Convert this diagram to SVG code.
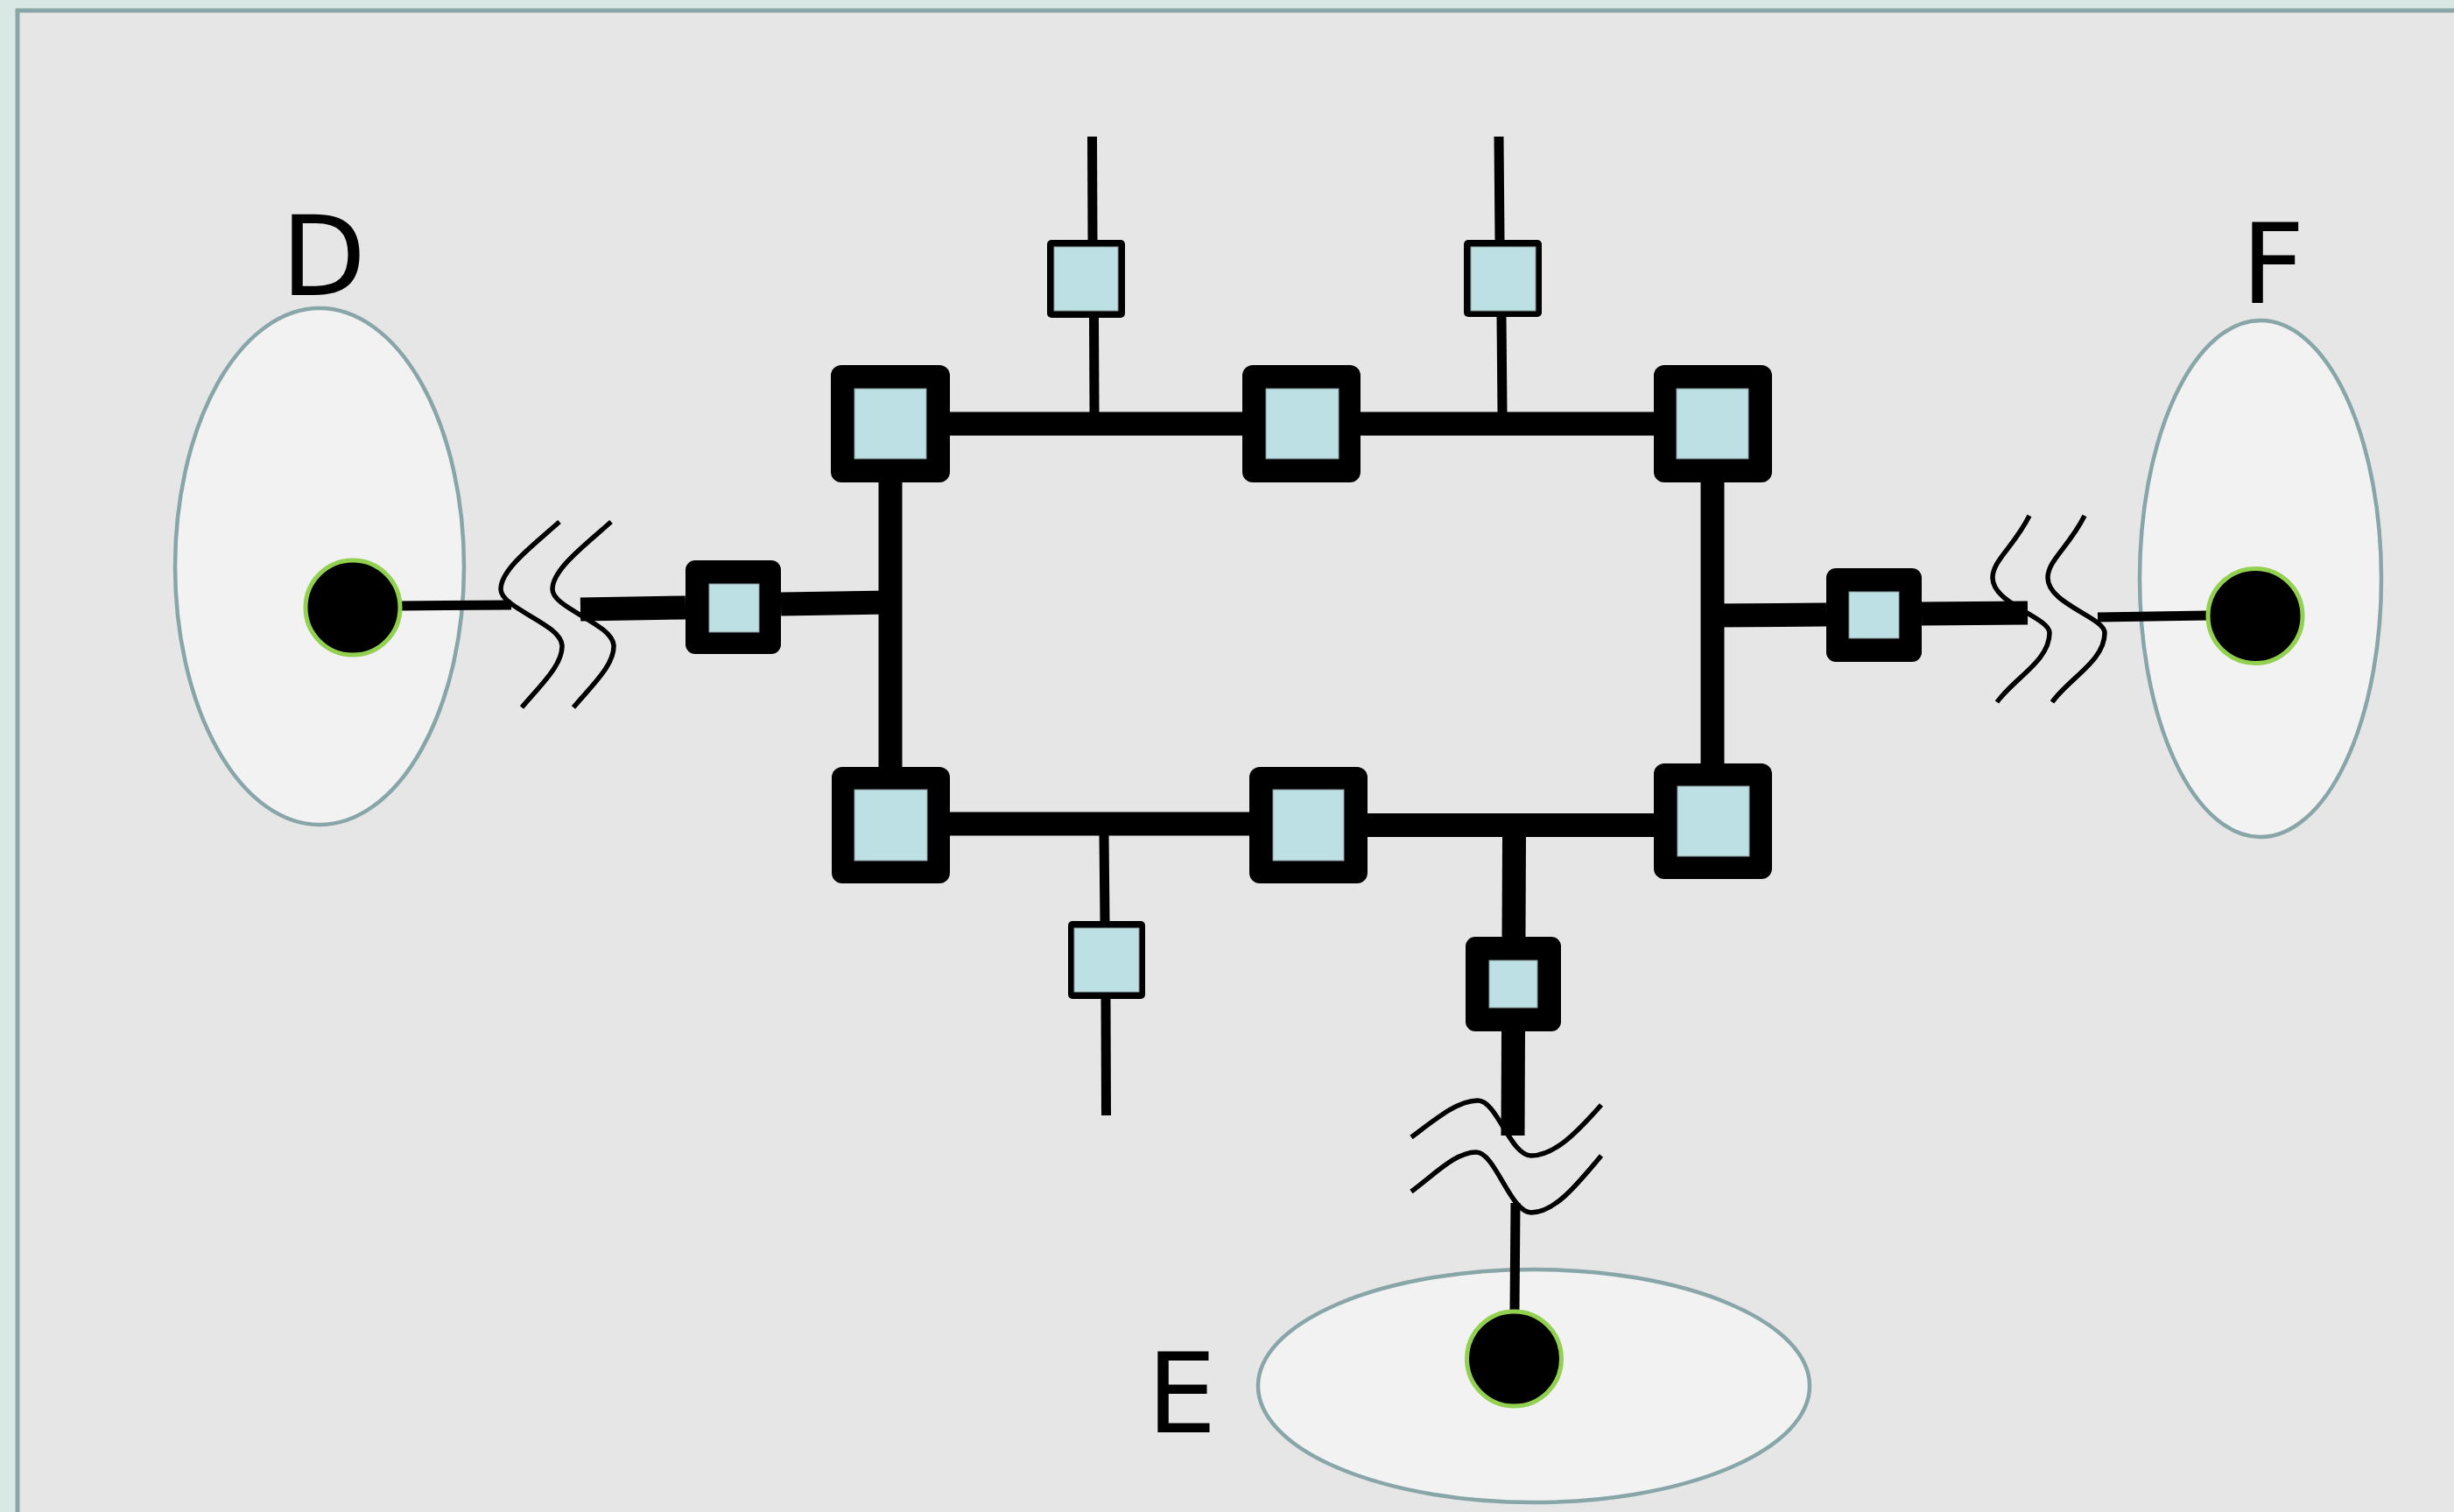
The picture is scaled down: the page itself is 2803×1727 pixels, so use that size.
<svg xmlns="http://www.w3.org/2000/svg" width="2803" height="1727" viewBox="0 0 2803 1727">
<style>
.lbl{font-family:"DejaVu Sans",sans-serif;font-size:126px;fill:#000}
.area{fill:#f2f2f2;stroke:#88a5a7;stroke-width:4.5}
.end{fill:#000;stroke:#92d050;stroke-width:5}
.blk{fill:#000}
.cell{fill:#bce0e3;stroke:#8a9a9c;stroke-width:1}
.thick{stroke:#000;stroke-width:27;fill:none}
.thin{stroke:#000;stroke-width:11;fill:none}
.wave{stroke:#000;stroke-width:5.5;fill:none}
</style>
<rect x="0" y="0" width="2803" height="1727" fill="#d9e8e5"/>
<rect x="20" y="12" width="2830" height="1760" fill="#e6e6e6" stroke="#88a5a7" stroke-width="5"/>

<g id="areaD"><ellipse class="area" cx="365" cy="647" rx="165" ry="295"/><text class="lbl" x="321" y="337">D</text></g>
<g id="areaF"><ellipse class="area" cx="2582" cy="661" rx="138" ry="295"/><text class="lbl" x="2560" y="346">F</text></g>
<g id="areaE"><ellipse class="area" cx="1752" cy="1583" rx="315" ry="133"/><text class="lbl" x="1310" y="1636">E</text></g>

<g id="connectors">
<line class="thick" x1="1085" y1="484" x2="1889" y2="484"/>
<line class="thick" x1="1017" y1="551" x2="1017" y2="876"/>
<line class="thick" x1="1956" y1="551" x2="1956" y2="872"/>
<line class="thick" x1="1085" y1="941" x2="1427" y2="941"/>
<line class="thick" x1="1562" y1="942.5" x2="1889" y2="942.5"/>
<line class="thick" x1="1017" y1="688" x2="892" y2="690"/>
<line class="thick" x1="783" y1="694" x2="663" y2="696"/>
<line class="thin" x1="584" y1="691" x2="459" y2="692"/>
<line class="thick" x1="1956" y1="703" x2="2086" y2="702"/>
<line class="thick" x1="2195" y1="701" x2="2316" y2="700"/>
<line class="thin" x1="2396" y1="705" x2="2521" y2="703"/>
<line class="thin" x1="1247.5" y1="156" x2="1248" y2="274"/>
<line class="thin" x1="1249.5" y1="363" x2="1250" y2="471"/>
<line class="thin" x1="1712" y1="156" x2="1713" y2="274"/>
<line class="thin" x1="1715" y1="362" x2="1716" y2="471"/>
<line class="thin" x1="1261" y1="954" x2="1262" y2="1052"/>
<line class="thin" x1="1263" y1="1141" x2="1263.5" y2="1274"/>
<line class="thick" x1="1729.5" y1="956" x2="1729" y2="1070"/>
<line class="thick" x1="1728.5" y1="1178" x2="1728" y2="1297"/>
<line class="thin" x1="1731" y1="1374" x2="1730" y2="1497"/>
<path class="wave" d="M639,596 C610,622 572,650 572,673 C572,695 640,712 642,737 C643,760 615,785 596,808"/>
<path class="wave" d="M698,596 C669,622 631,650 631,673 C631,695 699,712 701,737 C702,760 674,785 655,808"/>
<path class="wave" d="M2318,589 C2300,625 2276,640 2276,660 C2276,690 2341,705 2341,723 C2341,755 2300,775 2281,802"/>
<path class="wave" d="M2381,589 C2363,625 2339,640 2339,660 C2339,690 2404,705 2404,723 C2404,755 2363,775 2344,802"/>
<path class="wave" d="M1612,1299 C1640,1278 1665,1257 1688,1257 C1710,1257 1725,1320 1749,1320 C1775,1320 1800,1295 1829,1262"/>
<path class="wave" d="M1612,1361 C1640,1340 1663,1316 1686,1316 C1708,1316 1725,1385 1749,1385 C1775,1385 1800,1355 1829,1320"/>
</g>

<g id="endD"><circle class="end" cx="403" cy="694" r="54"/></g>
<g id="endF"><circle class="end" cx="2576" cy="703.5" r="54"/></g>
<g id="endE"><circle class="end" cx="1729.5" cy="1552" r="54"/></g>

<g id="nTL"><rect class="blk" x="949" y="417" width="136" height="134" rx="12"/><rect class="cell" x="976" y="444" width="82" height="80"/></g>
<g id="nTM"><rect class="blk" x="1419" y="417" width="135" height="134" rx="12"/><rect class="cell" x="1446" y="444" width="83" height="80"/></g>
<g id="nTR"><rect class="blk" x="1889" y="417" width="135" height="134" rx="12"/><rect class="cell" x="1915" y="444" width="82" height="80"/></g>
<g id="nBL"><rect class="blk" x="950" y="876" width="135" height="133" rx="12"/><rect class="cell" x="976" y="902" width="83" height="81"/></g>
<g id="nBM"><rect class="blk" x="1427" y="876" width="135" height="133" rx="12"/><rect class="cell" x="1454" y="902" width="81" height="81"/></g>
<g id="nBR"><rect class="blk" x="1889" y="872" width="135" height="132" rx="12"/><rect class="cell" x="1916" y="898" width="82" height="80"/></g>
<g id="nL"><rect class="blk" x="783" y="640" width="109" height="107" rx="11"/><rect class="cell" x="810" y="667" width="57" height="55"/></g>
<g id="nR"><rect class="blk" x="2086" y="649" width="109" height="107" rx="11"/><rect class="cell" x="2112" y="676" width="57" height="53"/></g>
<g id="nB"><rect class="blk" x="1674" y="1070" width="109" height="108" rx="11"/><rect class="cell" x="1701" y="1097" width="55" height="54"/></g>
<g id="sTL"><rect class="blk" x="1196" y="274" width="89" height="89" rx="5"/><rect class="cell" x="1204" y="282" width="73" height="73"/></g>
<g id="sTR"><rect class="blk" x="1672" y="274" width="89" height="88" rx="5"/><rect class="cell" x="1680" y="282" width="74" height="73"/></g>
<g id="sB"><rect class="blk" x="1220" y="1052" width="88" height="89" rx="5"/><rect class="cell" x="1227" y="1060" width="74" height="73"/></g>
</svg>
